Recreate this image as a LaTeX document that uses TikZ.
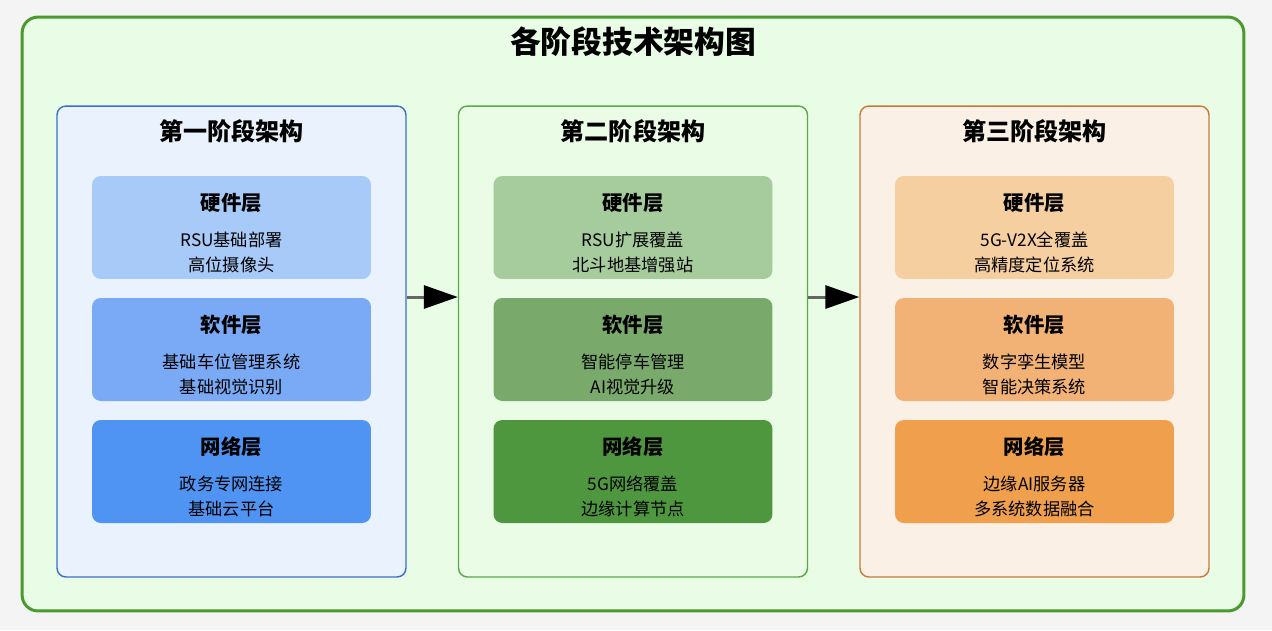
\documentclass[tikz,border=0pt]{standalone}
\usepackage{fontspec}
\setmainfont{Noto Sans CJK SC}
\usetikzlibrary{arrows.meta}

\definecolor{pagebg}{HTML}{F4F4F4}
\definecolor{framebg}{HTML}{E8FCE6}
\definecolor{frameedge}{HTML}{4A9A2E}
\definecolor{blueedge}{HTML}{3A70C8}
\definecolor{bluebg}{HTML}{EAF2FD}
\definecolor{blueA}{HTML}{A7CAF8}
\definecolor{blueB}{HTML}{7AAAF5}
\definecolor{blueC}{HTML}{4F94F3}
\definecolor{greenedge}{HTML}{5BA848}
\definecolor{greenbg}{HTML}{EAFBE6}
\definecolor{greenA}{HTML}{A6CC9E}
\definecolor{greenB}{HTML}{79AA6C}
\definecolor{greenC}{HTML}{4F973F}
\definecolor{orangeedge}{HTML}{C9793A}
\definecolor{orangebg}{HTML}{FBF0E6}
\definecolor{orangeA}{HTML}{F6CFA0}
\definecolor{orangeB}{HTML}{F2B276}
\definecolor{orangeC}{HTML}{F0A04C}

\tikzset{
  outer/.style={draw=frameedge, fill=framebg, line width=1.7pt, rounded corners=9pt,
    minimum width=24.44cm, minimum height=11.88cm, inner sep=0pt},
  panel/.style={line width=0.8pt, rounded corners=5pt,
    minimum width=6.98cm, minimum height=9.42cm, inner sep=0pt},
  tier/.style={rounded corners=5pt, minimum width=5.58cm, minimum height=2.06cm, inner sep=0pt},
  tiername/.style={font=\fontsize{11.6}{14}\selectfont\bfseries},
  tiertext/.style={font=\fontsize{9.8}{14.2}\selectfont, align=center},
  flow/.style={draw=black!60, line width=1.7pt, -{Triangle[length=0.68cm, width=0.46cm, color=black]}}
}

% one layer box: name, x, y, colour, heading, lines
\newcommand{\stagebox}[6]{%
  \node (#1) [tier, fill=#4] at (#2,#3) {};
  \node (#1t) [tiername] at (#2,#3-24.5) {#5};
  \node (#1b) [tiertext] at (#2,#3+25) {#6};
}

\begin{document}
\begin{tikzpicture}[x=0.02cm, y=-0.02cm]
  \useasboundingbox[fill=pagebg] (0,0) rectangle (1272,630);
  \node (frame) [outer] at (633,314) {};
  \node (title) [font=\fontsize{17.5}{20}\selectfont\bfseries] at (633,42) {各阶段技术架构图};

  \node (s1) [panel, draw=blueedge, fill=bluebg] at (231.5,341.5) {};
  \node (s2) [panel, draw=greenedge, fill=greenbg] at (633,341.5) {};
  \node (s3) [panel, draw=orangeedge, fill=orangebg] at (1034.5,341.5) {};

  \node (s1t) [font=\fontsize{13.7}{16}\selectfont\bfseries] at (231.5,131) {第一阶段架构};
  \node (s2t) [font=\fontsize{13.7}{16}\selectfont\bfseries] at (633,131) {第二阶段架构};
  \node (s3t) [font=\fontsize{13.7}{16}\selectfont\bfseries] at (1034.5,131) {第三阶段架构};

  \stagebox{h1}{231.5}{227.5}{blueA}{硬件层}{RSU基础部署\\高位摄像头}
  \stagebox{w1}{231.5}{349.5}{blueB}{软件层}{基础车位管理系统\\基础视觉识别}
  \stagebox{n1}{231.5}{471.5}{blueC}{网络层}{政务专网连接\\基础云平台}

  \stagebox{h2}{633}{227.5}{greenA}{硬件层}{RSU扩展覆盖\\北斗地基增强站}
  \stagebox{w2}{633}{349.5}{greenB}{软件层}{智能停车管理\\AI视觉升级}
  \stagebox{n2}{633}{471.5}{greenC}{网络层}{5G网络覆盖\\边缘计算节点}

  \stagebox{h3}{1034.5}{227.5}{orangeA}{硬件层}{5G-V2X全覆盖\\高精度定位系统}
  \stagebox{w3}{1034.5}{349.5}{orangeB}{软件层}{数字孪生模型\\智能决策系统}
  \stagebox{n3}{1034.5}{471.5}{orangeC}{网络层}{边缘AI服务器\\多系统数据融合}

  \draw [flow] ([yshift=0.89cm]s1.east) -- ([yshift=0.89cm]s2.west);
  \draw [flow] ([yshift=0.89cm]s2.east) -- ([yshift=0.89cm]s3.west);
\end{tikzpicture}
\end{document}
